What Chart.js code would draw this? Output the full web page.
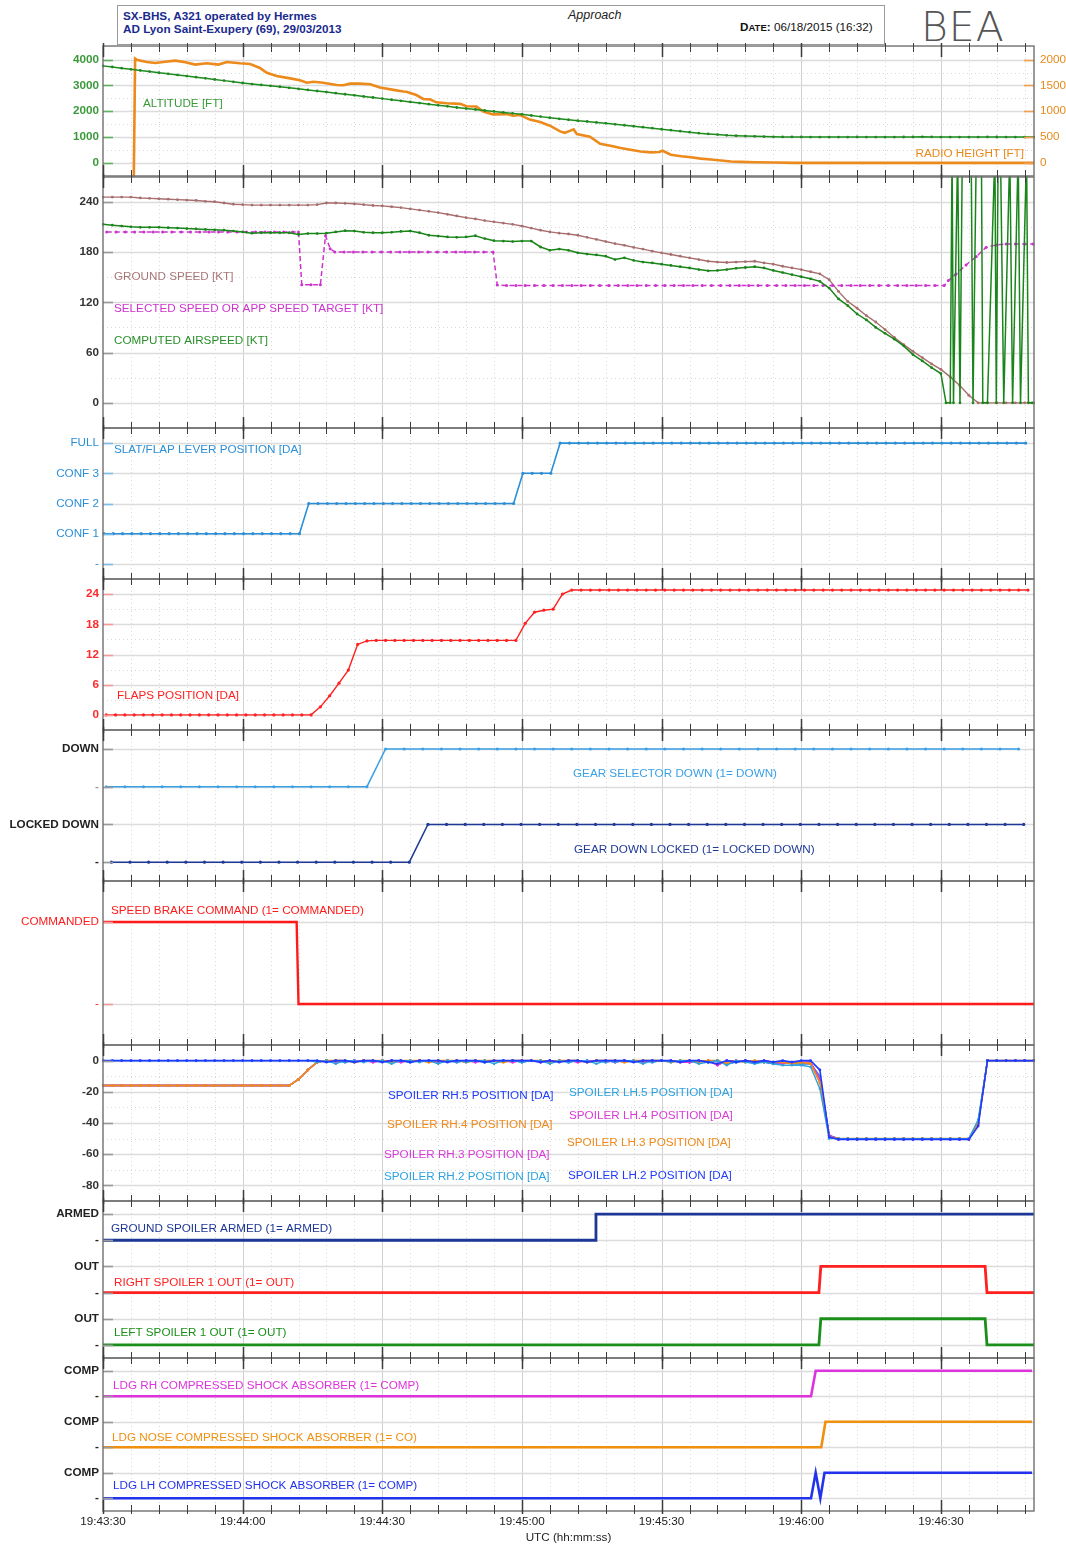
<!DOCTYPE html>
<html>
<head>
<meta charset="utf-8">
<title>SX-BHS A321 - Approach</title>
<script src="https://cdn.jsdelivr.net/npm/chart.js@4.4.1/dist/chart.umd.min.js"></script>
<style>
  html, body { margin: 0; padding: 0; background: #fff; }
  body { width: 1066px; height: 1548px; position: relative; overflow: hidden;
         font-family: "Liberation Sans", Arial, Helvetica, sans-serif; }
  canvas { position: absolute; left: 0; }
  .hd { position: absolute; white-space: nowrap; }
</style>
</head>
<body>
<div class="hd" style="left:117px;top:5px;width:766px;height:38px;border:1px solid #9a9a9a;"></div>
<div class="hd" style="left:123px;top:9px;font:bold 11.7px 'Liberation Sans',Arial;line-height:13px;color:#1a2a8e;">SX-BHS, A321 operated by Hermes<br>AD Lyon Saint-Exupery (69), 29/03/2013</div>
<div class="hd" style="left:568px;top:8px;font:italic 12.5px 'Liberation Sans',Arial;color:#222;">Approach</div>
<div class="hd" style="left:740px;top:20px;font:11.7px 'Liberation Sans',Arial;color:#111;"><b>D<span style="font-size:9.5px">ATE</span>:</b> 06/18/2015 (16:32)</div>
<div class="hd" style="left:921px;top:3px;font:200 41px 'DejaVu Sans',sans-serif;color:#555;letter-spacing:1px;">BEA</div>

<script>
// ---- time base: seconds after 19:43:30 UTC ----
const T0 = 19 * 3600 + 43 * 60 + 30;
const seq = (start, step, n) => Array.from({ length: n }, (_, i) => +(start + i * step).toFixed(2));
const tickTimes = [0, 30, 60, 90, 120, 150, 180];

// ---- altitude / radio height ----
const altT = seq(0, 2, 101);
const altitude = [3760,3716,3672,3628,3584,3540,3496,3452,3408,3364,
  3320,3276,3232,3188,3140,3095,3055,3020,2985,2950,
  2910,2870,2828,2786,2744,2702,2660,2618,2576,2534,
  2490,2447,2404,2361,2318,2275,2232,2190,2145,2105,
  2068,2030,1993,1955,1918,1880,1836,1792,1748,1705,
  1670,1636,1602,1568,1533,1495,1457,1419,1381,1343,
  1303,1265,1226,1188,1150,1122,1095,1068,1050,1038,
  1028,1018,1010,1006,1004,1002,1000,1000,998,998,
  1000,1004,1000,998,998,1000,1002,1004,1008,1004,
  1000,1000,998,998,1000,1004,1002,1000,1000,1000,
  1000];
const rhT = [6.6,6.9,7.2,9.4,11.2,13.4,15.5,17.7,19.8,22.3,24.8,26.6,29.4,31.6,33.7,35.2,37.3,40.2,42.3,43.8,
  45.2,47.3,50.2,51.6,53.1,55.2,57.4,59.5,62.4,64.5,65.2,67.3,68.8,70.2,71.6,73.8,76.7,78.1,80.2,81.7,
  83.8,86.7,88.1,89.6,91.7,93.9,96.0,98.2,99.2,100.3,101.1,101.8,104.6,106.8,109.0,111.2,113.3,115.5,117.7,119.5,
  120.2,122.0,124.2,126.3,128.4,130.6,132.8,134.9,137.1,140.1,144.4,148.7,160,180,200];
const radioHeight = [-400,2019,2000,1954,1935,1960,1981,1950,1905,1930,1905,1954,1930,1916,1840,1745,1682,1638,1600,1554,
  1573,1554,1510,1505,1535,1535,1524,1459,1415,1383,1377,1314,1238,1230,1173,1154,1143,1097,1091,996,
  939,945,914,926,838,792,720,610,583,620,648,558,507,368,330,286,253,221,202,209,
  234,158,126,107,82,63,44,25,19,12,6,0,0,0,0];

// ---- speeds [kt] ----
const gsT = seq(0, 2, 101);
const groundSpeed = [245.5,245.5,245.5,245.5,244.5,244,243.5,243,242.5,242,
  241.5,240.5,240,238.5,237,236.5,236,236,236,236,
  236,236,236,236.5,238.5,238.5,238,237.5,236.5,235.5,
  235,234,233,231.5,230,228.5,227,225,223,221,
  219.5,217.5,216,214.5,213,211,208.5,206,204,202.5,
  201.5,200,197.5,195,192.5,190,188,185.5,183.5,181,
  179,177,175,173,171,169,168,167.5,168,168.5,
  169,167,165.5,163,161,159,156.5,154,147,133,
  121,113,104,96.5,87.5,78,69.5,61.5,54,46.5,
  40,31,21,9,0,0,0,0,0,0,
  0];
const casT = seq(0, 2, 91);
const airspeed = [213,212,211,210,209.5,209.5,209.5,209,208.5,208,
  207.5,207,206.5,206,205,204,202.5,203,203,203,
  203,201,202,202,202.5,204,205.5,205,203.5,203,
  203,203.5,204.5,205,203,200,199,198,197.5,198,
  199.5,196,193.5,193,192.5,193,193,186,182,183.5,
  182,179,177.5,176.5,175,171,173,170,168,167,
  165.5,164,162.5,161,159,157.5,158,159,160.5,161.5,
  162.5,161,158,155.5,153,150.5,148,145,137,124,
  116,106,99,90,83,76,68,57.5,50,42,
  35];
const casTailT = [181.1,182.0,182.4,182.7,183.6,184.1,184.6,186.5,186.9,187.6,188.7,189.0,190.0,191.6,191.9,192.3,192.8,193.5,194.8,195.4,196.6,197.1,198.4,198.8,199.6];
const casTail = [0,0,300,0,300,0,300,300,0,300,300,0,0,300,0,300,300,0,300,0,300,0,300,0,0];
const selT = [0.8,2.8,4.8,6.8,8.8,10.8,12.8,14.8,16.8,18.8,20.8,22.8,24.8,26.8,28.8,30.8,32.8,34.8,36.8,38.8,40.8,
  42.0,42.7,44.7,46.7,47.8,48.8,
  49.8,51.8,53.8,55.8,57.8,59.8,61.8,63.8,65.8,67.8,69.8,71.8,73.8,75.8,77.8,79.8,81.8,83.8,
  84.7,86.7,88.7,90.7,92.7,94.7,96.7,98.7,100.7,102.7,104.7,106.7,108.7,110.7,112.7,114.7,116.7,118.7,120.7,122.7,124.7,
  126.7,128.7,130.7,132.7,134.7,136.7,138.7,140.7,142.7,144.7,146.7,148.7,150.7,152.7,154.7,156.7,158.7,160.7,162.7,164.7,
  166.7,168.7,170.7,172.7,174.7,176.7,178.7,180.7,
  181.6,183.2,185.4,187.6,189.7,191.9,194.0,196.0,198.0,199.8];
const selectedSpeed = [204,204,204,204,204,204,204,204,204,204,204,204,204,204,204,204,204,204,204,204,204,
  204,141,141,141,199.5,184,
  180,180,180,180,180,180,180,180,180,180,180,180,180,180,180,180,180,180,
  140.5,140,140,140,140,140,140,140,140,140,140,140,140,140,140,140,140,140,140,140,140,
  140,140,140,140,140,140,140,140,140,140,140,140,140,140,140,140,140,140,140,140,
  140,140,140,140,140,140,140,140,
  146,153.5,164.5,174.5,185.5,188.5,189.5,189.5,189.5,189.5];

// ---- slat/flap lever (0 = -, 1..3 = CONF 1..3, 4 = FULL) ----
const leverT = seq(0.2, 2, 100);
const leverPos = [1,1,1,1,1,1,1,1,1,1,1,1,1,1,1,1,1,1,1,1,1,1,
  2,2,2,2,2,2,2,2,2,2,2,2,2,2,2,2,2,2,2,2,2,2,2,
  3,3,3,3,
  4,4,4,4,4,4,4,4,4,4,4,4,4,4,4,4,4,4,4,4,4,4,4,4,4,4,4,4,4,4,4,4,4,4,4,4,4,4,4,4,4,4,4,4,4,4,4,4,4,4,4];

// ---- flaps position [deg] ----
const flapsT = seq(0.7, 2, 100);
const flapsPos = [0,0,0,0,0,0,0,0,0,0,0,0,0,0,0,0,0,0,0,0,0,0,0,
  1.6,3.8,6.3,8.9,14,14.7,
  14.8,14.8,14.8,14.8,14.8,14.8,14.8,14.8,14.8,14.8,14.8,14.8,14.8,14.8,14.8,14.8,
  18.2,20.4,20.8,21,24,
  24.8,24.8,24.8,24.8,24.8,24.8,24.8,24.8,24.8,24.8,24.8,24.8,24.8,24.8,24.8,24.8,24.8,24.8,24.8,24.8,24.8,24.8,24.8,24.8,24.8,
  24.8,24.8,24.8,24.8,24.8,24.8,24.8,24.8,24.8,24.8,24.8,24.8,24.8,24.8,24.8,24.8,24.8,24.8,24.8,24.8,24.8,24.8,24.8,24.8,24.8];

// ---- landing gear (1 = down / locked down) ----
const gearSelT = seq(0.7, 4, 50);
const gearSelector = [0,0,0,0,0,0,0,0,0,0,0,0,0,0,0,
  1,1,1,1,1,1,1,1,1,1,1,1,1,1,1,1,1,1,1,1,1,1,1,1,1,1,1,1,1,1,1,1,1,1,1];
const gearLockT = seq(1.8, 4, 50);
const gearLocked = [0,0,0,0,0,0,0,0,0,0,0,0,0,0,0,0,0,
  1,1,1,1,1,1,1,1,1,1,1,1,1,1,1,1,1,1,1,1,1,1,1,1,1,1,1,1,1,1,1,1,1];

// ---- speed brake command ----
const sbT = [0, 41.6, 42.0, 200];
const speedBrake = [1, 1, 0, 0];

// ---- spoiler positions [deg] ----
const spT = seq(0, 2, 101);
const spoiler5R = [0,0,0,0,0,0,0,0,0,0, 0,0,0,0,0,0,0,0,0,0,
  0,0,0,0,-1,0,0,-1,0,0, -1,0,0,-1,0,0,0,-1,0,0,
  0,-1,0,0,0,0,0,-1,0,-1, 0,0,-1,0,0,0,0,-1,0,0,
  0,0,-1,0,0,-1,-2,0,-1,0, -1,0,-1,0,-1,0,0,-6,-49,-50.5,
  -50.5,-50.5,-50.5,-50.5,-50.5,-50.5,-50.5,-50.5,-50.5,-50.5,
  -50.5,-50.5,-50.5,-50.5,-42,0,0,0,0,0, 0];
const spoiler5L = [0,0,0,0,0,0,0,0,0,0, 0,0,0,0,0,0,0,0,0,0,
  0,0,0,-1,0,-2,0,0,-1,0, 0,-2,0,0,-1,0,-2,0,0,-1,
  0,0,-2,0,0,-1,0,0,-2,0, -1,0,0,-2,0,-1,0,0,-2,0,
  0,-1,0,0,-2,-1,0,-3,0,-1, -2,-1,-2,-3,-3,-3,-4,-18,-50,-50,
  -50,-50,-50,-50,-50,-50,-50,-50,-50,-50,
  -50,-50,-50,-50,-38,0,0,0,0,0, 0];
const spoiler34 = [-16,-16,-16,-16,-16,-16,-16,-16,-16,-16, -16,-16,-16,-16,-16,-16,-16,-16,-16,-16,
  -16,-12,-6,-1,0,0,0,-1,0,0, 0,-1,0,0,0,-1,0,0,0,-1,
  0,0,0,-1,0,0,0,0,-1,0, 0,0,-1,0,0,0,-1,0,0,0,
  0,-1,0,0,-1,0,0,-2,0,-1, 0,-1,-1,-1,-2,-1,-2,-14,-49,-50,
  -50,-50,-50,-50,-50,-50,-50,-50,-50,-50,
  -50,-50,-50,-50,-40,0,0,0,0,0, 0];
const spoiler3 = [-16,-16,-16,-16,-16,-16,-16,-16,-16,-16, -16,-16,-16,-16,-16,-16,-16,-16,-16,-16,
  -16,-12,-6,-1,0,-1,0,0,0,-1, 0,0,-1,0,0,0,-1,0,0,0,
  -1,0,0,0,-1,0,0,-1,0,0, 0,-1,0,0,0,-1,0,0,-1,0,
  0,0,-1,-1,0,0,-3,0,0,0, -1,0,-1,-2,-1,-1,-1,-12,-48,-50.5,
  -50.5,-50.5,-50.5,-50.5,-50.5,-50.5,-50.5,-50.5,-50.5,-50.5,
  -50.5,-50.5,-50.5,-50.5,-41,0,0,0,0,0, 0];
const spoiler2 = [-16,-16,-16,-16,-16,-16,-16,-16,-16,-16, -16,-16,-16,-16,-16,-16,-16,-16,-16,-16,
  -16,-12,-6,-1,0,0,-1,0,0,0, 0,0,0,-1,0,0,0,0,-1,0,
  0,-1,0,0,0,-1,0,0,0,0, -1,0,0,0,-1,0,0,0,0,-1,
  0,0,0,-1,0,-1,0,-2,-1,0, -1,-1,-2,-1,-2,-2,-2,-10,-48,-50,
  -50,-50,-50,-50,-50,-50,-50,-50,-50,-50,
  -50,-50,-50,-50,-40,0,0,0,0,0, 0];

// ---- discrete spoiler states ----
const gsArmT = [0, 105.7, 105.9, 200];
const gsArmed = [0, 0, 1, 1];
const sp1T = [0, 153.8, 154.2, 189.5, 189.9, 200];
const spoiler1R = [0, 0, 1, 1, 0, 0];
const spoiler1L = [0, 0, 1, 1, 0, 0];

// ---- shock absorbers (1 = compressed) ----
const shockRhT = [0, 152.1, 153.1, 199.6];
const shockRh = [0, 0, 1, 1];
const shockNoseT = [0, 154.3, 155.2, 199.6];
const shockNose = [0, 0, 1, 1];
const shockLhT = [0, 152.1, 153.1, 154.1, 155.0, 199.6];
const shockLh = [0, 0, 1, 0, 1, 1];

// ------------------------------------------------------------------
const FONT = "'Liberation Sans', Arial, Helvetica, sans-serif";
Chart.defaults.font.family = FONT;
Chart.defaults.font.size = 11.7;
Chart.defaults.color = '#222';

const PAD = 12;
const pts = (ts, vs, off = 0) => ts.map((t, i) => ({ x: t, y: vs[i] + off }));
const hms = s => {
  const t = T0 + s;
  return [Math.floor(t / 3600), Math.floor(t % 3600 / 60), Math.round(t % 60)]
    .map(n => String(n).padStart(2, '0')).join(':');
};

function line(data, color, o = {}) {
  return Object.assign({
    data, borderColor: color, backgroundColor: color, pointBackgroundColor: color,
    borderWidth: 1.5, pointRadius: 1.5, pointBorderWidth: 0, pointHoverRadius: 0,
    tension: 0, clip: 1, yAxisID: 'y'
  }, o);
}

const C = {
  alt: '#1f8a1f', altTxt: '#3a9a3a', rh: '#ec8a1c', gs: '#a86e6e', sel: '#cc33cc', cas: '#1a851a',
  lever: '#2b8fd8', flaps: '#ff2020', gearSel: '#3aa0e6', gearLock: '#1f3a96', red: '#ff1a1a',
  spBlue: '#1f3bff', spOrange: '#f08a1c', spMag: '#d93ad9', spLight: '#2ca3e0',
  navy: '#1d3797', green: '#1a8f1a', shRh: '#dd33dd', shNose: '#f0900f', shLh: '#2233ee'
};

const panels = [
  { top: 45, bottom: 177, min: -510, max: 4530, ticks: [0, 1000, 2000, 3000, 4000], minor: [500, 1500, 2500, 3500],
    tickColor: C.altTxt, bold: true, mark: '#5fb35f',
    right: { min: -255, max: 2265, ticks: [0, 500, 1000, 1500, 2000], color: '#e8891a', mark: '#f0a050' },
    datasets: [
      line(pts(altT, altitude), C.alt, { pointRadius: 1.4, borderWidth: 1.5 }),
      line(pts(rhT, radioHeight), C.rh, { pointRadius: 0, borderWidth: 2.6, yAxisID: 'y2' })
    ],
    captions: [['ALTITUDE [FT]', C.altTxt, 143, 104], ['RADIO HEIGHT [FT]', '#e8891a', 1024, 154, 'right']] },
  { top: 177, bottom: 428, min: -30, max: 269.5, ticks: [0, 60, 120, 180, 240], minor: [30, 90, 150, 210],
    tickColor: '#333', bold: true, mark: '#9a9a9a',
    datasets: [
      line(pts(casT, airspeed).concat(pts(casTailT, casTail)), C.cas, { pointRadius: 1.4, borderWidth: 1.5 }),
      line(pts(selT, selectedSpeed), C.sel, { pointRadius: 1.5, borderWidth: 1.5, borderDash: [5, 3] }),
      line(pts(gsT, groundSpeed), C.gs, { pointRadius: 1.4, borderWidth: 1.4 })
    ],
    captions: [['GROUND SPEED [KT]', '#a87676', 114, 277], ['SELECTED SPEED OR APP SPEED TARGET [KT]', C.sel, 114, 309],
      ['COMPUTED AIRSPEED [KT]', '#2a8f2a', 114, 341]] },
  { top: 428, bottom: 579, min: -0.5, max: 4.5, ticks: [0, 1, 2, 3, 4], text: ['-', 'CONF 1', 'CONF 2', 'CONF 3', 'FULL'],
    tickColor: C.lever, mark: '#7fbde9',
    datasets: [line(pts(leverT, leverPos), C.lever, { pointRadius: 1.6, borderWidth: 1.6 })],
    captions: [['SLAT/FLAP LEVER POSITION [DA]', C.lever, 114, 450]] },
  { top: 579, bottom: 730, min: -3, max: 27, ticks: [0, 6, 12, 18, 24], minor: [3, 9, 15, 21],
    tickColor: '#ff2a2a', bold: true, mark: '#f59a9a',
    datasets: [line(pts(flapsT, flapsPos), C.flaps, { pointRadius: 1.6, borderWidth: 1.4 })],
    captions: [['FLAPS POSITION [DA]', C.flaps, 117, 696]] },
  { top: 730, bottom: 881, min: -0.5, max: 3.5, ticks: [0, 1, 2, 3], text: ['-', 'LOCKED DOWN', '-', 'DOWN'],
    tickColor: ['#222', '#222', '#999', '#222'], bold: true, mark: '#9a9a9a',
    datasets: [
      line(pts(gearSelT, gearSelector, 2), C.gearSel, { pointRadius: 1.5, borderWidth: 1.5 }),
      line(pts(gearLockT, gearLocked, 0), C.gearLock, { pointRadius: 1.6, borderWidth: 1.5 })
    ],
    captions: [['GEAR SELECTOR DOWN (1= DOWN)', C.gearSel, 573, 774], ['GEAR DOWN LOCKED (1= LOCKED DOWN)', C.gearLock, 574, 850]] },
  { top: 881, bottom: 1045, min: -0.5, max: 1.5, ticks: [0, 1], text: ['-', 'COMMANDED'],
    tickColor: C.red, mark: '#f59a9a',
    datasets: [line(pts(sbT, speedBrake), C.red, { pointRadius: 0, borderWidth: 2.4 })],
    captions: [['SPEED BRAKE COMMAND (1= COMMANDED)', C.red, 111, 911]] },
  { top: 1045, bottom: 1201, min: -90, max: 10, ticks: [-80, -60, -40, -20, 0], minor: [-70, -50, -30, -10],
    tickColor: '#333', bold: true, mark: '#9a9a9a',
    datasets: [
      line(pts(spT, spoiler5R), C.spBlue, { pointRadius: 1.4, borderWidth: 1.6 }),
      line(pts(spT, spoiler5L), C.spLight, { pointRadius: 1.3, borderWidth: 1.4 }),
      line(pts(spT, spoiler34), C.spOrange, { pointRadius: 1.4, borderWidth: 1.5 }),
      line(pts(spT, spoiler34), C.spOrange, { pointRadius: 1.3, borderWidth: 1.4 }),
      line(pts(spT, spoiler3), C.spMag, { pointRadius: 1.3, borderWidth: 1.4 }),
      line(pts(spT, spoiler3), C.spMag, { pointRadius: 1.3, borderWidth: 1.4 }),
      line(pts(spT, spoiler2), C.spLight, { pointRadius: 1.3, borderWidth: 1.4 }),
      line(pts(spT, spoiler2), C.spBlue, { pointRadius: 1.3, borderWidth: 1.4 })
    ],
    captions: [
      ['SPOILER RH.5 POSITION [DA]', C.spBlue, 388, 1096], ['SPOILER RH.4 POSITION [DA]', C.spOrange, 387, 1125],
      ['SPOILER RH.3 POSITION [DA]', C.spMag, 384, 1155], ['SPOILER RH.2 POSITION [DA]', C.spLight, 384, 1177],
      ['SPOILER LH.5 POSITION [DA]', C.spLight, 569, 1093], ['SPOILER LH.4 POSITION [DA]', C.spMag, 569, 1116],
      ['SPOILER LH.3 POSITION [DA]', C.spOrange, 567, 1143], ['SPOILER LH.2 POSITION [DA]', C.spBlue, 568, 1176]] },
  { top: 1201, bottom: 1358, min: -0.5, max: 5.5, ticks: [0, 1, 2, 3, 4, 5], text: ['-', 'OUT', '-', 'OUT', '-', 'ARMED'],
    tickColor: '#222', bold: true, mark: '#9a9a9a',
    datasets: [
      line(pts(gsArmT, gsArmed, 4), C.navy, { pointRadius: 0, borderWidth: 2.8 }),
      line(pts(sp1T, spoiler1R, 2), C.flaps, { pointRadius: 0, borderWidth: 2.8 }),
      line(pts(sp1T, spoiler1L, 0), C.green, { pointRadius: 0, borderWidth: 2.8 })
    ],
    captions: [['GROUND SPOILER ARMED (1= ARMED)', C.navy, 111, 1229], ['RIGHT SPOILER 1 OUT (1= OUT)', C.flaps, 114, 1283],
      ['LEFT SPOILER 1 OUT (1= OUT)', C.green, 114, 1333]] },
  { top: 1358, bottom: 1511, min: -0.5, max: 5.5, ticks: [0, 1, 2, 3, 4, 5], text: ['-', 'COMP', '-', 'COMP', '-', 'COMP'],
    tickColor: '#222', bold: true, mark: '#9a9a9a', last: true,
    datasets: [
      line(pts(shockRhT, shockRh, 4), C.shRh, { pointRadius: 0, borderWidth: 2.6 }),
      line(pts(shockNoseT, shockNose, 2), C.shNose, { pointRadius: 0, borderWidth: 2.6 }),
      line(pts(shockLhT, shockLh, 0), C.shLh, { pointRadius: 0, borderWidth: 2.6 })
    ],
    captions: [['LDG RH COMPRESSED SHOCK ABSORBER (1= COMP)', C.shRh, 113, 1386],
      ['LDG NOSE COMPRESSED SHOCK ABSORBER (1= CO)', C.shNose, 112, 1438],
      ['LDG LH COMPRESSED SHOCK ABSORBER (1= COMP)', C.shLh, 113, 1486]] }
];

// grid, frame, time ticks and series captions of one panel
function decoration(p, canvasTop) {
  const hLine = (ctx, a, py, dash, color, w) => {
    ctx.beginPath(); ctx.setLineDash(dash); ctx.strokeStyle = color; ctx.lineWidth = w;
    ctx.moveTo(a.left, py); ctx.lineTo(a.right, py); ctx.stroke();
  };
  return {
    id: 'decoration',
    beforeDatasetsDraw(chart) {
      const { ctx, chartArea: a } = chart;
      const x = chart.scales.x, y = chart.scales.y;
      ctx.save();
      ctx.beginPath(); ctx.rect(a.left, a.top, a.width, a.height); ctx.clip();
      for (let t = 6; t < 200; t += 6) {
        const px = Math.round(x.getPixelForValue(t)) + 0.5;
        const major = t % 30 === 0;
        ctx.beginPath();
        ctx.setLineDash(major ? [] : [1, 3]);
        ctx.strokeStyle = major ? '#d0d0d0' : '#d8d8d8';
        ctx.lineWidth = 1;
        ctx.moveTo(px, a.top); ctx.lineTo(px, a.bottom); ctx.stroke();
      }
      (p.minor || []).forEach(v => hLine(ctx, a, Math.round(y.getPixelForValue(v)) + 0.5, [1, 3], '#d8d8d8', 1));
      p.ticks.forEach(v => hLine(ctx, a, Math.round(y.getPixelForValue(v)) + 0.5, [], '#dcdcdc', 1.6));
      ctx.restore();
    },
    afterDatasetsDraw(chart) {
      const { ctx, chartArea: a } = chart;
      const x = chart.scales.x, y = chart.scales.y;
      ctx.save();
      ctx.setLineDash([]);
      ctx.lineWidth = 1.6;
      ctx.strokeStyle = p.mark;
      p.ticks.forEach(v => {
        const py = Math.round(y.getPixelForValue(v)) + 0.5;
        ctx.beginPath(); ctx.moveTo(a.left, py); ctx.lineTo(a.left + 10, py); ctx.stroke();
      });
      if (p.right) {
        const y2 = chart.scales.y2;
        ctx.strokeStyle = p.right.mark;
        p.right.ticks.forEach(v => {
          const py = Math.round(y2.getPixelForValue(v)) + 0.5;
          ctx.beginPath(); ctx.moveTo(a.right - 10, py); ctx.lineTo(a.right, py); ctx.stroke();
        });
      }
      ctx.strokeStyle = '#707070';
      ctx.lineWidth = 1.4;
      ctx.strokeRect(a.left, a.top, a.right - a.left, a.bottom - a.top);
      ctx.strokeStyle = '#3c3c3c';
      for (let t = 0; t <= 200; t += 6) {
        const px = Math.round(x.getPixelForValue(t)) + 0.5;
        const major = t % 30 === 0;
        ctx.lineWidth = major ? 1.5 : 1;
        ctx.beginPath();
        ctx.moveTo(px, a.top - 3); ctx.lineTo(px, a.top + (major ? 11 : 6));
        ctx.moveTo(px, a.bottom + 3); ctx.lineTo(px, a.bottom - (major ? 11 : 6));
        ctx.stroke();
      }
      ctx.font = '11.7px ' + FONT;
      ctx.textBaseline = 'middle';
      p.captions.forEach(([txt, col, px, py, al]) => {
        ctx.fillStyle = col;
        ctx.textAlign = al || 'left';
        ctx.fillText(txt, px, py - canvasTop);
      });
      ctx.restore();
    }
  };
}

function yAxis(cfg, side, color, bold, text) {
  return {
    type: 'linear', position: side, min: cfg.min, max: cfg.max,
    grid: { display: false, drawTicks: false }, border: { display: false },
    afterBuildTicks: s => { s.ticks = cfg.ticks.map(v => ({ value: v })); },
    afterFit: s => { s.width = side === 'left' ? 103 : 32; },
    ticks: {
      autoSkip: false, padding: side === 'left' ? 4 : 6,
      color: c => Array.isArray(color) ? color[c.index] : color,
      font: { weight: bold ? 'bold' : 'normal' },
      callback: (v, i) => text ? text[i] : String(v)
    }
  };
}

panels.forEach(p => {
  const canvasTop = p.top - PAD;
  const cv = document.createElement('canvas');
  cv.width = 1066;
  // the last panel carries the time axis below it
  cv.height = p.bottom - p.top + PAD + (p.last ? 37 : PAD);
  cv.style.top = canvasTop + 'px';
  document.body.appendChild(cv);

  const xAxis = {
    type: 'linear', min: 0, max: 200, display: !!p.last, position: 'bottom',
    grid: { display: false, drawTicks: false }, border: { display: false },
    afterBuildTicks: s => { s.ticks = tickTimes.map(v => ({ value: v })); },
    ticks: { autoSkip: false, maxRotation: 0, padding: 4, color: '#222', callback: v => hms(v) },
    title: { display: true, text: 'UTC (hh:mm:ss)', color: '#222', padding: { top: 0, bottom: 0 } }
  };
  if (p.last) xAxis.afterFit = s => { s.height = 34; };

  const scales = { x: xAxis, y: yAxis(p, 'left', p.tickColor, p.bold, p.text) };
  if (p.right) scales.y2 = yAxis(p.right, 'right', p.right.color, false, null);

  new Chart(cv, {
    type: 'line',
    data: { datasets: p.datasets },
    options: {
      responsive: false, animation: false, devicePixelRatio: 1, parsing: false, normalized: true,
      events: [],
      layout: { padding: { top: PAD, bottom: p.last ? 3 : PAD, left: 0, right: p.right ? 0 : 32 } },
      plugins: { legend: { display: false }, tooltip: { enabled: false } },
      scales
    },
    plugins: [decoration(p, canvasTop)]
  });
});
</script>
</body>
</html>
